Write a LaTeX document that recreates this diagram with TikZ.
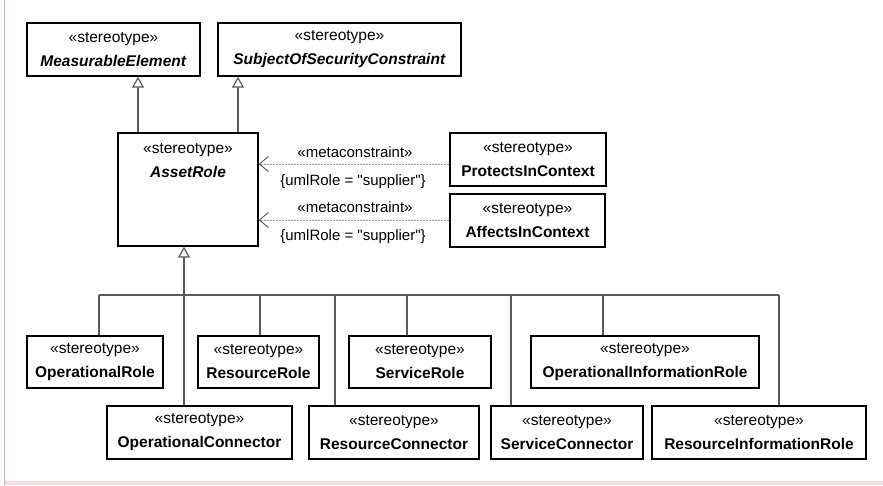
\documentclass[tikz,border=0pt]{standalone}
\usepackage{fontspec}
\setmainfont{Liberation Sans}
\newfontfamily\plainsans{Liberation Sans}
\usetikzlibrary{arrows.meta,calc}
\definecolor{linegray}{HTML}{5A5A5A}
\definecolor{dashgray}{HTML}{9A9A9A}
\definecolor{pinkline}{HTML}{F2A4AC}
\definecolor{pinkfill}{HTML}{FBDDE0}
\tikzset{
  umlbox/.style={draw=black, line width=1.3pt, fill=white, inner sep=0pt, align=center,
    font=\fontsize{15.5}{24}\selectfont},
  gen/.style={draw=linegray, line width=1.2pt, -{Triangle[open, length=11pt, width=12pt, fill=white]}},
  conn/.style={draw=linegray, line width=1.2pt},
  dep/.style={draw=dashgray, line width=0.9pt, dash pattern=on 2pt off 1pt,
    -{Straight Barb[length=9pt, width=15pt, line width=0.9pt, color=linegray]}},
  lbl/.style={font=\plainsans\fontsize{15}{17}\selectfont, inner sep=0pt}
}
\begin{document}
\begin{tikzpicture}[x=1pt,y=-1pt]
\useasboundingbox (0,0) rectangle (883,485);
% frame
\fill[pinkfill] (5,481) rectangle (883,485);
\draw[pinkline, line width=1.2pt] (4.5,0) -- (4.5,485);

% top boxes
\node[umlbox, minimum width=173pt, minimum height=53pt] (ME) at (113.5,49.5) {«stereotype»\\\textbf{\textit{MeasurableElement}}};
\node[umlbox, minimum width=243pt, minimum height=53pt] (SSC) at (339.5,49.5) {«stereotype»\\\textbf{\textit{SubjectOfSecurityConstraint}}};

% AssetRole
\node[umlbox, minimum width=140pt, minimum height=113pt] (AR) at (188,189.5) {};
\node[inner sep=0pt, align=center, font=\fontsize{15.5}{24}\selectfont] (ARt) at (188,160.5) {«stereotype»\\\textbf{\textit{AssetRole}}};

% right boxes
\node[umlbox, minimum width=156pt, minimum height=53pt] (PIC) at (528,159.5) {«stereotype»\\\textbf{ProtectsInContext}};
\node[umlbox, minimum width=155pt, minimum height=53pt] (AIC) at (527.5,220.5) {«stereotype»\\\textbf{AffectsInContext}};

% bottom row 1
\node[umlbox, minimum width=136pt, minimum height=52pt] (OR) at (95,362) {«stereotype»\\\textbf{OperationalRole}};
\node[umlbox, minimum width=121pt, minimum height=52pt] (RR) at (258.5,362) {«stereotype»\\\textbf{ResourceRole}};
\node[umlbox, minimum width=142pt, minimum height=52pt] (SR) at (420,362) {«stereotype»\\\textbf{ServiceRole}};
\node[umlbox, minimum width=228pt, minimum height=52pt] (OIR) at (645,362) {«stereotype»\\\textbf{OperationalInformationRole}};

% bottom row 2
\node[umlbox, minimum width=185pt, minimum height=53pt] (OC) at (199.5,432.5) {«stereotype»\\\textbf{OperationalConnector}};
\node[umlbox, minimum width=170pt, minimum height=53pt] (RC) at (394,432.5) {«stereotype»\\\textbf{ResourceConnector}};
\node[umlbox, minimum width=152pt, minimum height=53pt] (SC) at (567,432.5) {«stereotype»\\\textbf{ServiceConnector}};
\node[umlbox, minimum width=214pt, minimum height=53pt] (RIR) at (759,432.5) {«stereotype»\\\textbf{ResourceInformationRole}};

% generalizations up
\coordinate (g1) at (138,0);
\coordinate (g2) at (238,0);
\draw[gen] (AR.north -| g1) -- (ME.south -| g1);
\draw[gen] (AR.north -| g2) -- (SSC.south -| g2);

% bus
\coordinate (bus) at (0,295);
\coordinate (xOR) at (99,0);
\coordinate (xRR) at (260,0);
\coordinate (xSR) at (407,0);
\coordinate (xOIR) at (603,0);
\coordinate (xOC) at (184,0);
\coordinate (xRC) at (335,0);
\coordinate (xSC) at (511,0);
\coordinate (xRIR) at (779,0);
\draw[gen] (OC.north -| xOC) -- (AR.south -| xOC);
\draw[conn] (bus -| xOR) -- (bus -| xRIR);
\draw[conn] (bus -| xOR) -- (OR.north -| xOR);
\draw[conn] (bus -| xRR) -- (RR.north -| xRR);
\draw[conn] (bus -| xSR) -- (SR.north -| xSR);
\draw[conn] (bus -| xOIR) -- (OIR.north -| xOIR);
\draw[conn] (bus -| xRC) -- (RC.north -| xRC);
\draw[conn] (bus -| xSC) -- (SC.north -| xSC);
\draw[conn] (bus -| xRIR) -- (RIR.north -| xRIR);

% metaconstraints
\coordinate (m1) at (0,164);
\coordinate (m2) at (0,220);
\draw[dep] (PIC.west |- m1) -- (AR.east |- m1);
\draw[dep] (AIC.west |- m2) -- (AR.east |- m2);
\node[lbl] (l1a) at (355,152) {«metaconstraint»};
\node[lbl] (l1b) at (353,182) {\{umlRole = "supplier"\}};
\node[lbl] (l2a) at (355,207) {«metaconstraint»};
\node[lbl] (l2b) at (353,237) {\{umlRole = "supplier"\}};
\end{tikzpicture}
\end{document}
